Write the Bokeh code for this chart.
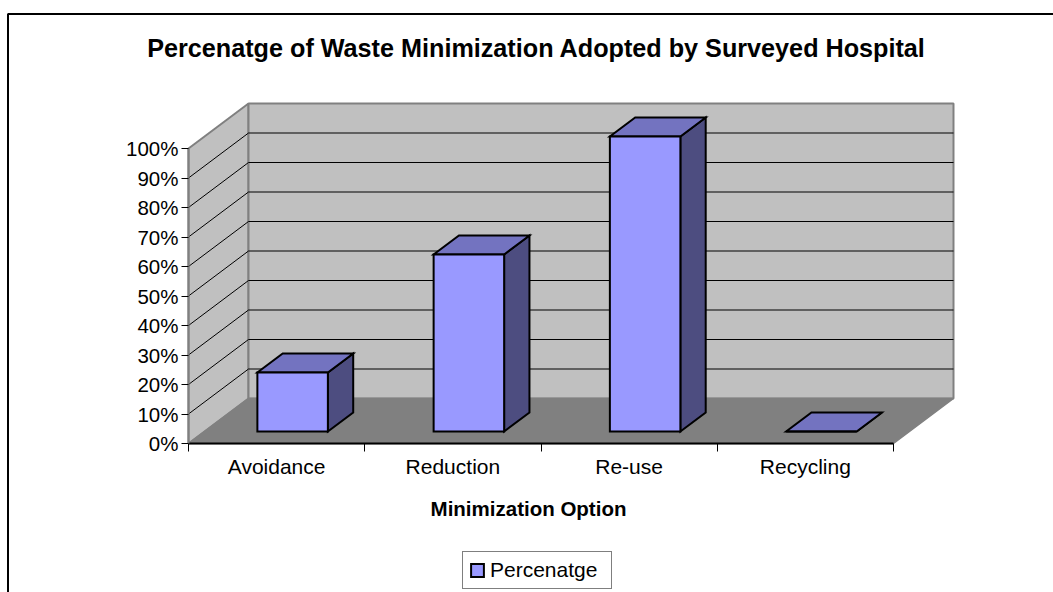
from bokeh.plotting import figure
from bokeh.models import (Range1d, LinearAxis, FixedTicker, PrintfTickFormatter,
                          Legend, LegendItem)
from bokeh.core.properties import value
from bokeh.embed import file_html
from bokeh.resources import INLINE

# ---------------- data ----------------
title = "Percenatge of Waste Minimization Adopted by Surveyed Hospital"
x_title = "Minimization Option"
series_name = "Percenatge"
categories = ["Avoidance", "Reduction", "Re-use", "Recycling"]
values = [20, 60, 100, 0]
y_ticks = [0, 10, 20, 30, 40, 50, 60, 70, 80, 90, 100]

# ---------------- layout constants (pixels) ----------------
W, H = 1053, 592
OX, OY = 0, 0            # picture origin
AX0, AY0 = 188, 443      # picture position of data origin (front-left floor corner)
S_X = 176.25             # px per category
S_Y = 2.95               # px per percent
DX = 60 / S_X            # depth offset (data units)
DY = 45 / S_Y
F1, F2 = 12 / 45, 31 / 45  # bar front/back depth fractions
HW = 0.2                 # half bar width (category units)
FONT = value("Liberation Sans")

def px_x(px):
    return (px - AX0) / S_X

def px_y(py):
    return (AY0 - py) / S_Y

p = figure(width=W, height=H,
           x_range=Range1d(px_x(OX), px_x(OX + W)),
           y_range=Range1d(px_y(OY + H), px_y(OY)),
           x_axis_type=None, y_axis_type=None,
           toolbar_location=None, output_backend="svg",
           min_border=0, outline_line_color=None)
p.background_fill_color = "white"
p.border_fill_color = "white"

n = len(categories)
YMAX = y_ticks[-1]

# ---------------- walls and floor ----------------
p.patch([0, 0, DX, DX], [0, YMAX, YMAX + DY, DY],
        fill_color="#C0C0C0", line_color="#808080", line_width=2)
p.patch([DX, n + DX, n + DX, DX], [DY, DY, YMAX + DY, YMAX + DY],
        fill_color="#C0C0C0", line_color="#808080", line_width=2)
p.patch([0, n, n + DX, DX], [0, 0, DY, DY],
        fill_color="#808080", line_color="#808080", line_width=1.5)

inner = y_ticks[1:-1]
p.segment(x0=[0] * len(inner), y0=inner, x1=[DX] * len(inner),
          y1=[t + DY for t in inner], line_color="black", line_width=1)
p.segment(x0=[DX] * len(inner), y0=[t + DY for t in inner],
          x1=[n + DX] * len(inner), y1=[t + DY for t in inner],
          line_color="black", line_width=1)

# ---------------- 3D bars ----------------
a, b = F1 * DX, F2 * DX
c, d = F1 * DY, F2 * DY
lefts = [i + 0.5 - HW for i in range(n)]
rights = [i + 0.5 + HW for i in range(n)]

side_xs = [[r + a, r + b, r + b, r + a] for r in rights]
side_ys = [[c, d, v + d, v + c] for v in values]
p.patches(side_xs, side_ys, fill_color="#4D4D80", line_color="black",
          line_width=2, line_join="miter")

top_xs = [[l + a, r + a, r + b, l + b] for l, r in zip(lefts, rights)]
top_ys = [[v + c, v + c, v + d, v + d] for v in values]
p.patches(top_xs, top_ys, fill_color="#7373C0", line_color="black",
          line_width=2, line_join="miter")

front = p.quad(left=[l + a for l in lefts], right=[r + a for r in rights],
               bottom=[c] * n, top=[v + c for v in values],
               fill_color="#9999FF", line_color="black", line_width=2,
               line_join="miter")

# ---------------- axes ----------------
yaxis = LinearAxis(fixed_location=0, bounds=(0, YMAX),
                   ticker=FixedTicker(ticks=y_ticks),
                   formatter=PrintfTickFormatter(format="%d%%"))
yaxis.axis_line_color = "#808080"
yaxis.axis_line_width = 2
yaxis.major_tick_out = 7
yaxis.major_tick_in = 0
yaxis.major_tick_line_color = "black"
yaxis.minor_tick_out = 0
yaxis.minor_tick_in = 0
yaxis.major_label_standoff = 3
yaxis.major_label_text_font = "Liberation Sans"
yaxis.major_label_text_font_size = "20.5px"
yaxis.major_label_text_color = "black"
p.add_layout(yaxis, "left")

centers = [i + 0.5 for i in range(n)]
xaxis = LinearAxis(fixed_location=0, bounds=(0, n),
                   ticker=FixedTicker(ticks=centers, minor_ticks=list(range(n + 1))),
                   major_label_overrides={cx: lab for cx, lab in zip(centers, categories)})
xaxis.axis_line_color = "black"
xaxis.axis_line_width = 2
xaxis.major_tick_line_color = None
xaxis.major_tick_out = 0
xaxis.major_tick_in = 0
xaxis.minor_tick_out = 8
xaxis.minor_tick_in = 0
xaxis.minor_tick_line_color = "black"
xaxis.minor_tick_line_width = 1
xaxis.major_label_standoff = 3
xaxis.major_label_text_font = "Liberation Sans"
xaxis.major_label_text_font_size = "21px"
xaxis.major_label_text_color = "black"
p.add_layout(xaxis, "below")

# ---------------- texts ----------------
p.text(x=[px_x(536)], y=[px_y(47)], text=[title], text_font=FONT,
       text_font_style="bold", text_font_size="25.2px", text_color="black",
       text_align="center", text_baseline="middle")
p.text(x=[px_x(528)], y=[px_y(508)], text=[x_title], text_font=FONT,
       text_font_style="bold", text_font_size="20.5px", text_color="black",
       text_align="center", text_baseline="middle")

# outer chart-area border
p.line(x=[px_x(7.5), px_x(7.5), px_x(1060)], y=[px_y(600), px_y(13.5), px_y(13.5)],
       line_color="black", line_width=2)

# ---------------- legend ----------------
legend = Legend(items=[LegendItem(label=series_name, renderers=[front])],
                location=(462, H - 589), orientation="vertical")
legend.border_line_color = "black"
legend.border_line_width = 1
legend.background_fill_color = "white"
legend.background_fill_alpha = 1
legend.label_text_font = "Liberation Sans"
legend.label_text_font_size = "21px"
legend.label_text_color = "black"
legend.glyph_width = 16
legend.glyph_height = 16
legend.label_standoff = 5
legend.padding = 6
legend.spacing = 0
legend.margin = 0
legend.label_height = 23
legend.label_width = 115
p.add_layout(legend)

open("out.html", "w").write(file_html(p, INLINE))
